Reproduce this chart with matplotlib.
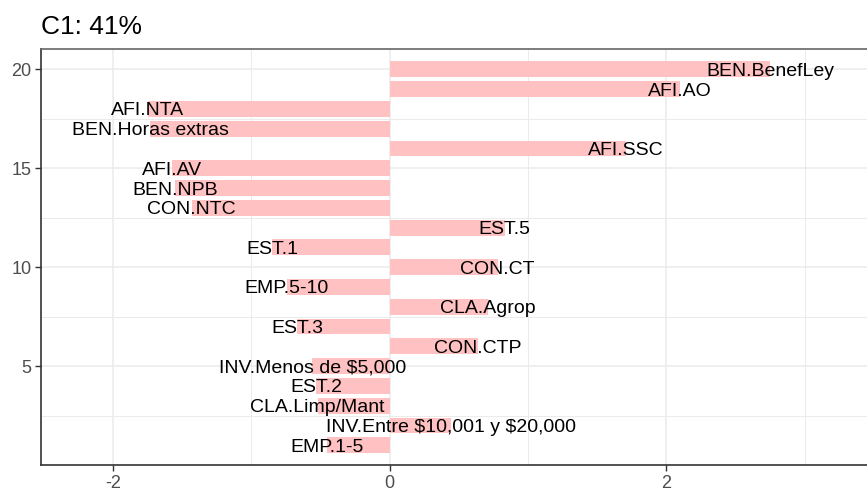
import matplotlib
matplotlib.use("Agg")
import matplotlib.pyplot as plt
from matplotlib.ticker import FixedLocator

plt.rcParams['font.family'] = ['Liberation Sans', 'DejaVu Sans']
plt.rcParams['text.parse_math'] = False

labels = ["BEN.BenefLey", "AFI.AO", "AFI.NTA", "BEN.Horas extras", "AFI.SSC",
          "AFI.AV", "BEN.NPB", "CON.NTC", "EST.5", "EST.1", "CON.CT",
          "EMP.5-10", "CLA.Agrop", "EST.3", "CON.CTP", "INV.Menos de $5,000",
          "EST.2", "CLA.Limp/Mant", "INV.Entre $10,001 y $20,000", "EMP.1-5"]
positions = [20, 19, 18, 17, 16, 15, 14, 13, 12, 11, 10, 9, 8, 7, 6, 5, 4, 3, 2, 1]
values = [2.75, 2.10, -1.75, -1.73, 1.71, -1.57, -1.55, -1.43, 0.83, -0.85,
          0.78, -0.745, 0.71, -0.67, 0.64, -0.56, -0.53, -0.52, 0.44, -0.455]
title = "C1: 41%"

W, H = 867, 491
fig = plt.figure(figsize=(W / 100, H / 100), dpi=100)
left, right, top, bottom = 41, 867, 49, 465
ax = fig.add_axes([left / W, 1 - bottom / H, (right - left) / W, (bottom - top) / H])

ax.barh(positions, values, height=0.8, color="#FFC1C1", zorder=2)
for y, v, lab in zip(positions, values, labels):
    ax.text(v, y - 0.1, lab, ha="center", va="center", fontsize=14, color="black",
            zorder=3, parse_math=False)

ax.set_xlim(-2.52, 3.45)
ax.set_ylim(-0.0, 21.03)
ax.xaxis.set_major_locator(FixedLocator([-2, 0, 2]))
ax.xaxis.set_minor_locator(FixedLocator([-3, -1, 1, 3]))
ax.yaxis.set_major_locator(FixedLocator([5, 10, 15, 20]))
ax.yaxis.set_minor_locator(FixedLocator([2.5, 7.5, 12.5, 17.5]))
ax.grid(which="major", color="#EBEBEB", linewidth=1.1, zorder=0)
ax.grid(which="minor", color="#EBEBEB", linewidth=0.7, zorder=0)
ax.set_axisbelow(True)
ax.tick_params(which="minor", length=0)
ax.tick_params(which="major", length=4, width=1, color="#333333",
               labelcolor="#4D4D4D", labelsize=13, pad=3)
ax.set_xticklabels(["-2", "0", "2"])
for s in ["left", "bottom", "top"]:
    ax.spines[s].set_color("#333333")
    ax.spines[s].set_linewidth(1.2)
ax.spines["top"].set_color("#666666")
ax.spines["right"].set_visible(False)

fig.text(left / W, 1 - 34 / H, title, fontsize=19, ha="left", va="baseline", color="black")

fig.savefig("out.png", dpi=100)
